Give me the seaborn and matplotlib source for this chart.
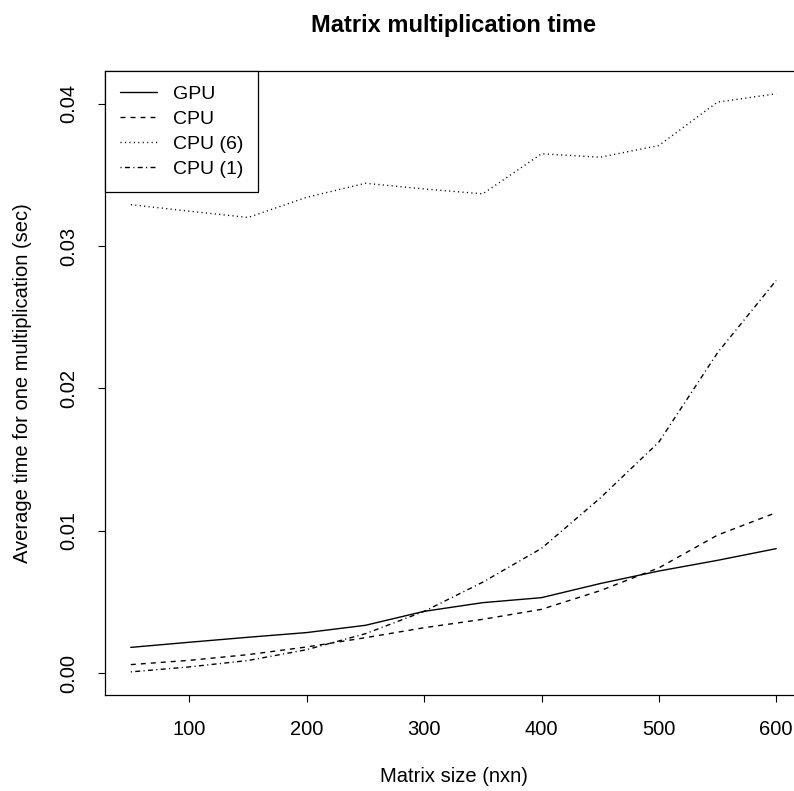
import pandas as pd
import matplotlib
matplotlib.use("Agg")
import matplotlib.pyplot as plt
import matplotlib.ticker as mticker
import seaborn as sns

# matrix sizes (n for an n x n matrix)
sizes = [50, 100, 150, 200, 250, 300, 350, 400, 450, 500, 550, 600]

# average time for one multiplication (sec)
gpu = [0.00182, 0.00218, 0.00253, 0.00286, 0.00337, 0.00435,
       0.00496, 0.00531, 0.00630, 0.00718, 0.00793, 0.00875]
cpu = [0.00061, 0.00091, 0.00131, 0.00185, 0.00250, 0.00320,
       0.00379, 0.00449, 0.00580, 0.00740, 0.00970, 0.01128]
cpu6 = [0.03290, 0.03244, 0.03200, 0.03342, 0.03440, 0.03400,
        0.03366, 0.03647, 0.03623, 0.03705, 0.04010, 0.04068]
cpu1 = [0.00010, 0.00045, 0.00090, 0.00166, 0.00278, 0.00435,
        0.00640, 0.00877, 0.01230, 0.01623, 0.02250, 0.02758]

series_names = ["GPU", "CPU", "CPU (6)", "CPU (1)"]
x_ticks = [100, 200, 300, 400, 500, 600]
y_ticks = [0.00, 0.01, 0.02, 0.03, 0.04]

sns.set_style("ticks")
plt.rcParams["font.family"] = ["Liberation Sans", "DejaVu Sans"]
plt.rcParams["text.color"] = "black"
plt.rcParams["axes.labelcolor"] = "black"

# R style line types: solid, dashed, dotted, dotdash
line_styles = {
    "GPU": "-",
    "CPU": (0, (3.6, 3.6)),
    "CPU (6)": (0, (0.8, 2.4)),
    "CPU (1)": (0, (0.8, 2.4, 3.6, 2.4)),
}

fig = plt.figure(figsize=(7.94, 7.91), dpi=100)
ax = fig.add_axes([0.13224, 0.12137, 0.87783, 0.78925])

for name, values in zip(series_names, [gpu, cpu, cpu6, cpu1]):
    sns.lineplot(x=sizes, y=values, ax=ax, color="black", linewidth=1.0,
                 linestyle=line_styles[name], label=name)

ax.margins(0.04)
ax.set_xticks(x_ticks)
ax.set_yticks(y_ticks)
ax.yaxis.set_major_formatter(mticker.FormatStrFormatter("%.2f"))
ax.tick_params(axis="both", direction="out", length=5, width=0.8,
               labelsize=14.5, color="black", labelcolor="black")
ax.tick_params(axis="x", pad=13)
ax.tick_params(axis="y", pad=14)
for lbl in ax.get_yticklabels():
    lbl.set_rotation(90)
    lbl.set_va("center")

for spine in ax.spines.values():
    spine.set_visible(True)
    spine.set_color("black")
    spine.set_linewidth(0.9)

ax.set_title("Matrix multiplication time", fontsize=17, fontweight="bold", pad=28)
ax.set_xlabel("Matrix size (nxn)", fontsize=14.5, labelpad=20)
ax.set_ylabel("Average time for one multiplication (sec)", fontsize=14.5, labelpad=20)

leg = ax.legend(loc="upper left", borderaxespad=0, fancybox=False, frameon=True,
                edgecolor="black", fontsize=14, handlelength=1.9, handletextpad=0.85,
                borderpad=0.75, labelspacing=0.38, framealpha=1)
leg.get_frame().set_linewidth(0.9)

fig.savefig("out.png", dpi=100)
